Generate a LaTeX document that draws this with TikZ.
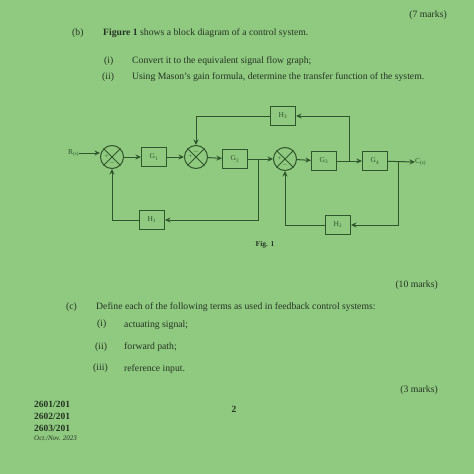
\documentclass[tikz,border=0pt]{standalone}
\usepackage{fontspec}
\setmainfont{Liberation Serif}
\usetikzlibrary{arrows.meta}
\definecolor{paper}{RGB}{143,202,128}
\definecolor{ink}{RGB}{38,52,36}
\definecolor{wire}{RGB}{48,86,44}
\begin{document}
\begin{tikzpicture}[x=1pt,y=-1pt,
  txt/.style={anchor=west,inner sep=0pt,text=ink,font=\fontsize{9.7}{11}\selectfont},
  blk/.style={draw=wire,line width=1pt,minimum width=25pt,minimum height=19pt,inner sep=0pt,text=wire,font=\fontsize{7.5}{8}\selectfont},
  sj/.style={draw=wire,circle,minimum size=23pt,line width=1pt,inner sep=0pt},
  sig/.style={draw=wire,line width=1pt,-{Stealth[length=5.5pt,width=5pt]}},
  ln/.style={draw=wire,line width=1pt},
  sgn/.style={inner sep=0pt,text=wire,font=\fontsize{6.5}{6.5}\selectfont}]
\fill[paper] (0,0) rectangle (474,474);
\useasboundingbox (0,0) rectangle (474,474);
% header text
\node[txt,anchor=east] (m7) at (447,15) {(7 marks)};
\node[txt] (tb) at (72,33) {(b)};
\node[txt] (tb1) at (103,33) {\textbf{Figure 1} shows a block diagram of a control system.};
\node[txt] (ti) at (104,61) {(i)};
\node[txt] (ti1) at (132,61) {Convert it to the equivalent signal flow graph;};
\node[txt] (tii) at (102,77) {(ii)};
\node[txt] (tii1) at (132,77) {Using Mason's gain formula, determine the transfer function of the system.};
% diagram
\node[txt,text=wire,font=\fontsize{7.5}{8}\selectfont] (R) at (68,153) {R\textsubscript{(s)}};
\node[sj] (s1) at (112,157) {};
\node[blk] (G1) at (154,157) {G\textsubscript{1}};
\node[sj] (s2) at (196,157) {};
\node[blk] (G2) at (235,159) {G\textsubscript{2}};
\node[sj] (s3) at (285,159) {};
\node[blk] (G3) at (324,161) {G\textsubscript{3}};
\node[blk] (G4) at (375,161) {G\textsubscript{4}};
\node[blk] (H3) at (283,116) {H\textsubscript{3}};
\node[blk] (H1) at (152,220) {H\textsubscript{1}};
\node[blk] (H2) at (338,225) {H\textsubscript{2}};
\node[txt,text=wire,font=\fontsize{7.5}{8}\selectfont] (C) at (415,162) {C\textsubscript{(s)}};
\coordinate (p1) at (258,159);
\coordinate (p2) at (349,161);
\coordinate (p3) at (398,161);
\foreach \s in {s1,s2,s3}{
  \draw[ln] (\s.45) -- (\s.225) (\s.135) -- (\s.315);}
\node[sgn] at ([xshift=-5.5pt]s1.center) {+};
\node[sgn] at ([yshift=-5.5pt]s1.center) {$-$};
\node[sgn] at ([xshift=-5.5pt]s2.center) {+};
\node[sgn] at ([yshift=5.5pt]s2.center) {$-$};
\node[sgn] at ([xshift=-5.5pt]s3.center) {+};
\node[sgn] at ([yshift=-5.5pt]s3.center) {$-$};
\draw[sig] (R.east) -- (s1.west |- R.east);
\draw[sig] (s1) -- (G1);
\draw[sig] (G1) -- (s2);
\draw[sig] (s2) -- (G2);
\draw[sig] (G2) -- (s3);
\draw[sig] (s3) -- (G3);
\draw[sig] (G3) -- (G4);
\draw[sig] (G4) -- (C.west);
\draw[sig] (p2) |- (H3.east);
\draw[sig] (H3.west) -| (s2.north);
\draw[sig] (p1) |- (H1.east);
\draw[sig] (H1.west) -| (s1.south);
\draw[sig] (p3) |- (H2.east);
\draw[sig] (H2.west) -| (s3.south);
\node[inner sep=0pt,text=ink,font=\bfseries\fontsize{7.5}{8}\selectfont] (fig) at (265,245) {Fig. 1};
% part c
\node[txt,anchor=east] (m10) at (438,285) {(10 marks)};
\node[txt] (tc) at (66,307) {(c)};
\node[txt] (tc1) at (96,307) {Define each of the following terms as used in feedback control systems:};
\node[txt] (ci) at (97,324) {(i)};
\node[txt] (ci1) at (124,325) {actuating signal;};
\node[txt] (cii) at (95,347) {(ii)};
\node[txt] (cii1) at (124,347) {forward path;};
\node[txt] (ciii) at (93,368) {(iii)};
\node[txt] (ciii1) at (124,369) {reference input.};
\node[txt,anchor=east] (m3) at (438,390) {(3 marks)};
\node[txt,font=\bfseries\fontsize{9.5}{11}\selectfont] (f1) at (34,404) {2601/201};
\node[txt,font=\bfseries\fontsize{9.5}{11}\selectfont] (f2) at (34,416) {2602/201};
\node[txt,font=\bfseries\fontsize{9.5}{11}\selectfont] (f3) at (34,428) {2603/201};
\node[txt,font=\itshape\fontsize{7}{8}\selectfont] (f4) at (34,438) {Oct./Nov. 2023};
\node[inner sep=0pt,text=ink,font=\bfseries\fontsize{9.5}{11}\selectfont] (pg) at (234,409) {2};
\end{tikzpicture}
\end{document}
